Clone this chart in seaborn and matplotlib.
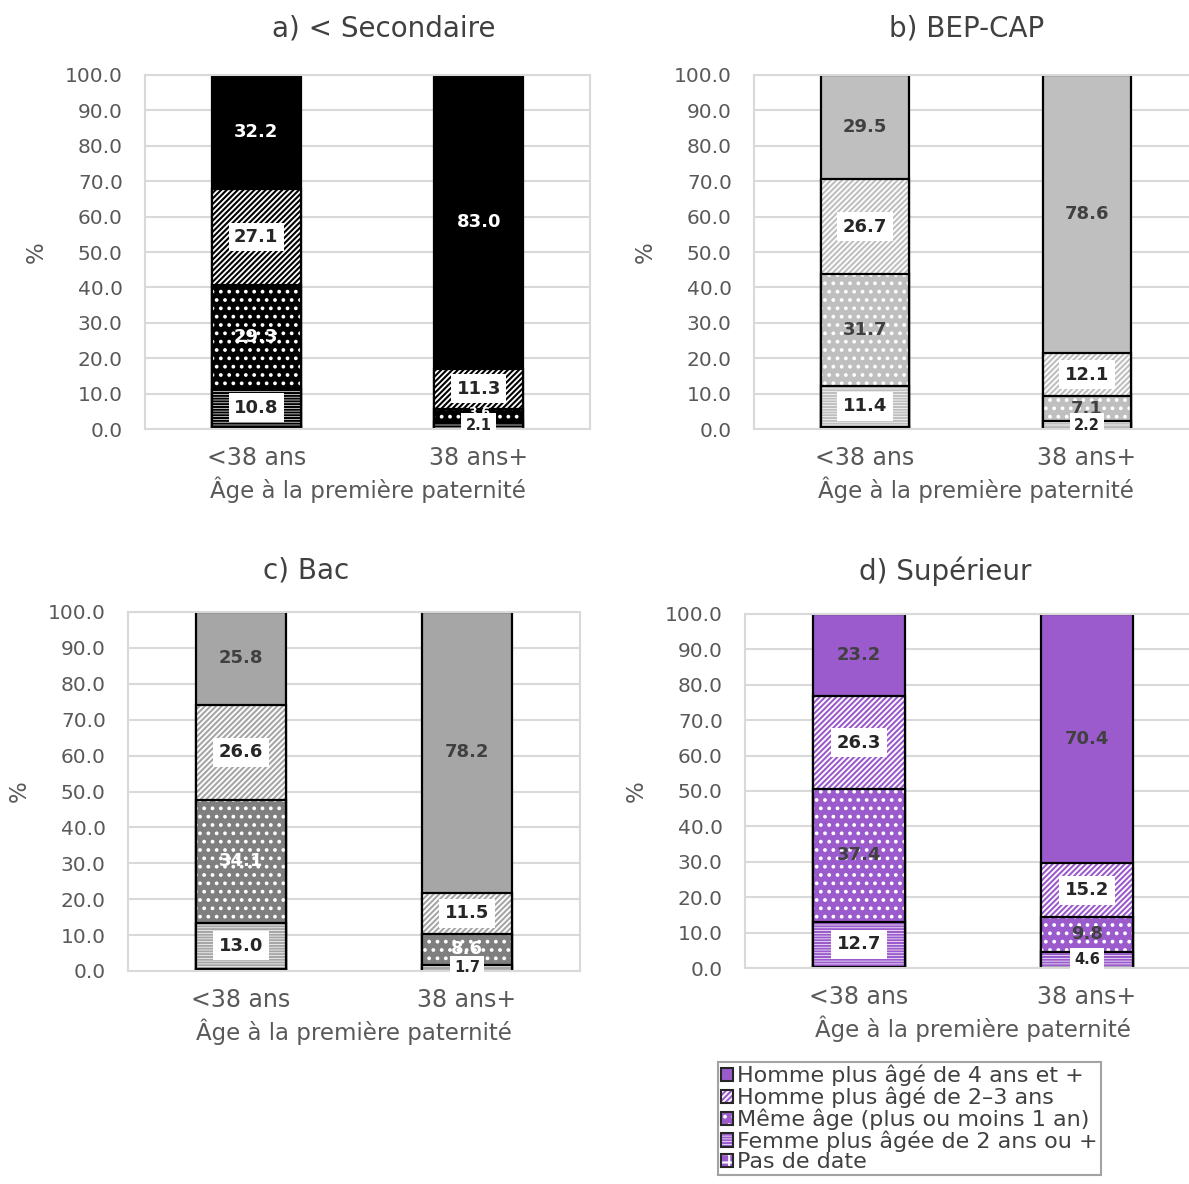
import matplotlib
matplotlib.use("Agg")
import matplotlib.pyplot as plt
from matplotlib.patches import Patch
import pandas as pd
import seaborn as sns

AGES = ["<38 ans", "38 ans+"]
PANELS = ["a) < Secondaire", "b) BEP-CAP", "c) Bac", "d) Supérieur"]
SEGMENTS = [
    "Pas de date",
    "Femme plus âgée de 2 ans ou +",
    "Même âge (plus ou moins 1 an)",
    "Homme plus âgé de 2–3 ans",
    "Homme plus âgé de 4 ans et +",
]

# values in panel order, <38 ans then 38 ans+ for each panel
PAS_DE_DATE = [0.6, 0.0, 0.7, 0.0, 0.5, 0.0, 0.4, 0.0]
FEMME_PLUS_AGEE = [10.8, 2.1, 11.4, 2.2, 13.0, 1.7, 12.7, 4.6]
MEME_AGE = [29.3, 3.6, 31.7, 7.1, 34.1, 8.6, 37.4, 9.8]
HOMME_2_3 = [27.1, 11.3, 26.7, 12.1, 26.6, 11.5, 26.3, 15.2]
HOMME_4_PLUS = [32.2, 83.0, 29.5, 78.6, 25.8, 78.2, 23.2, 70.4]

# panel styling
MAIN_COLORS = ["#000000", "#bfbfbf", "#a6a6a6", "#9b5bcd"]
DOT_COLORS = ["#000000", "#bfbfbf", "#7f7f7f", "#9b5bcd"]
SOLID_TEXT = ["white", "#404040", "#404040", "#404040"]
DOT_TEXT = ["white", "#404040", "white", "#404040"]
HATCHES = ["++", "------", "..", "//////", ""]

W, H = 1189, 1184
# axes boxes in pixels: left, top, right, bottom
AX_BOXES = [(145, 75, 590, 429), (754, 75, 1198, 429),
            (128, 612, 580, 971), (745, 614, 1201, 968)]
TITLE_POS = [(384, 28), (967, 28), (306, 571), (945, 571)]

GREY_TXT = "#595959"


def build_frame() -> pd.DataFrame:
    cols = [PAS_DE_DATE, FEMME_PLUS_AGEE, MEME_AGE, HOMME_2_3, HOMME_4_PLUS]
    rows = []
    for seg, vals in zip(SEGMENTS, cols):
        for i, v in enumerate(vals):
            rows.append({"panel": PANELS[i // 2], "age": AGES[i % 2],
                         "segment": seg, "value": v})
    return pd.DataFrame(rows)


def seg_style(s, k):
    # facecolor, hatch colour for a segment index s in panel k
    col = MAIN_COLORS[k]
    if s == 0:
        return col, "white"
    if s == 1:
        return "white", col
    if s == 2:
        return DOT_COLORS[k], "white"
    if s == 3:
        return "white", col
    return col, col


def draw_panel(ax, sub, k):
    wide = sub.pivot(index="age", columns="segment", values="value").loc[AGES, SEGMENTS]
    cum = wide.cumsum(axis=1)

    # stacked bars drawn as overlapping cumulative bars, top layer first
    for s in reversed(range(len(SEGMENTS))):
        seg = SEGMENTS[s]
        face, hcol = seg_style(s, k)
        sns.barplot(x=AGES, y=cum[seg].values, order=AGES, color=face, saturation=1,
                    width=0.4, errorbar=None, hatch=HATCHES[s] or None,
                    edgecolor=hcol, linewidth=0, ax=ax)
        sns.barplot(x=AGES, y=cum[seg].values, order=AGES, color="black", fill=False,
                    width=0.4, errorbar=None, linewidth=1.6, ax=ax)

    for j, age in enumerate(AGES):
        for s in range(1, len(SEGMENTS)):
            v = wide.loc[age, SEGMENTS[s]]
            if v <= 0:
                continue
            y = cum.loc[age, SEGMENTS[s]] - v / 2
            small = v < 5
            if s in (1, 3):
                ax.text(j, y, f"{v:.1f}", ha="center", va="center",
                        fontsize=10.5 if small else 13, fontweight="bold", color="#262626",
                        bbox=dict(boxstyle="square,pad=0.3", fc="white", ec="none"),
                        zorder=6, clip_on=False)
            else:
                # tiny segment labels sit mostly behind the neighbouring box
                tc = DOT_TEXT[k] if s == 2 else SOLID_TEXT[k]
                ax.text(j, y + (0.8 if small else 0), f"{v:.1f}", ha="center", va="center",
                        fontsize=9 if small else 13, fontweight="bold", color=tc, zorder=5)

    ax.set_xlim(-0.5, 1.5)
    ax.set_ylim(0, 100)
    ax.set_yticks(range(0, 101, 10))
    ax.set_yticklabels([f"{t:.1f}" for t in range(0, 101, 10)])
    ax.yaxis.grid(True, color="#d9d9d9", linewidth=1.5)
    ax.xaxis.grid(False)
    ax.set_axisbelow(True)
    for sp in ax.spines.values():
        sp.set_color("#d9d9d9")
        sp.set_linewidth(1.5)
    ax.tick_params(axis="y", length=0, pad=16, labelsize=14.5, labelcolor=GREY_TXT)
    ax.tick_params(axis="x", length=0, pad=12, labelsize=17, labelcolor=GREY_TXT)
    ax.set_xlabel("Âge à la première paternité", fontsize=16.5, color=GREY_TXT, labelpad=5)
    ax.set_ylabel("%", fontsize=16.5, color=GREY_TXT, labelpad=12)


def main() -> None:
    sns.set_theme(style="white")
    plt.rcParams["font.family"] = ["DejaVu Sans"]
    plt.rcParams["hatch.linewidth"] = 1.5

    df = build_frame()
    fig = plt.figure(figsize=(W / 100, H / 100), dpi=100)

    for k, panel in enumerate(PANELS):
        l, t, r, b = AX_BOXES[k]
        ax = fig.add_axes([l / W, 1 - b / H, (r - l) / W, (b - t) / H])
        draw_panel(ax, df[df["panel"] == panel], k)
        tx, ty = TITLE_POS[k]
        fig.text(tx / W, 1 - ty / H, panel, ha="center", va="center",
                 fontsize=20, color="#404040")

    # legend uses the purple panel styling
    handles = []
    for s in reversed(range(len(SEGMENTS))):
        face, hcol = seg_style(s, 3)
        handles.append((Patch(facecolor=face, edgecolor=hcol, hatch=HATCHES[s] or None, linewidth=0),
                        Patch(fill=False, edgecolor="#262626", linewidth=1.5)))
    leg = fig.legend(handles, list(reversed(SEGMENTS)), loc="upper left",
                     bbox_to_anchor=(718 / W, 1 - 1062 / H), fontsize=16,
                     handlelength=0.55, handleheight=0.55, handletextpad=0.2,
                     labelspacing=0.02, borderpad=0.12, borderaxespad=0,
                     frameon=True, fancybox=False, labelcolor="#404040")
    leg.get_frame().set_edgecolor("#8c8c8c")
    leg.get_frame().set_linewidth(1.5)

    fig.savefig("out.png", dpi=100)
    plt.close(fig)


if __name__ == "__main__":
    main()
